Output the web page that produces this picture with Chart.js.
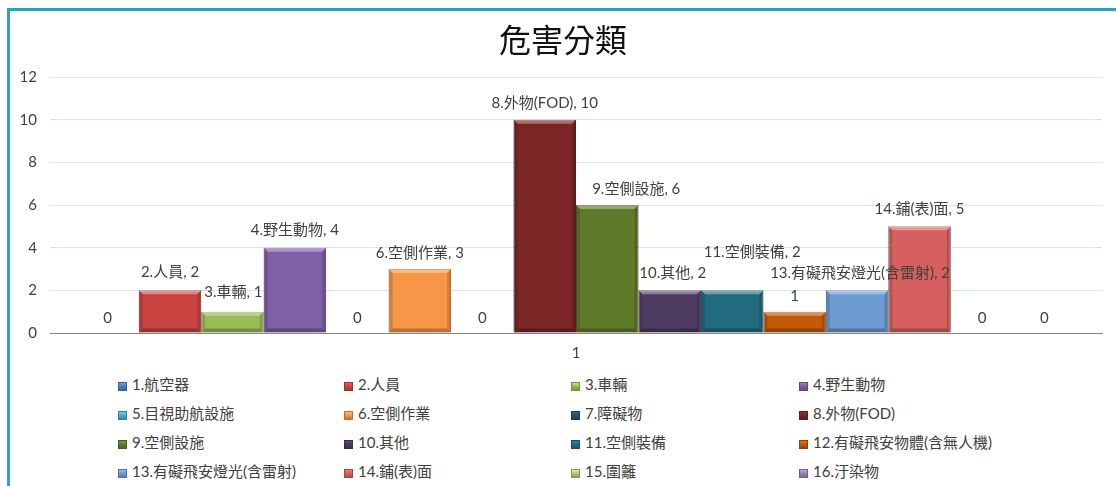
<!DOCTYPE html>
<html>
<head>
<meta charset="utf-8">
<script src="https://cdn.jsdelivr.net/npm/chart.js@4"></script>
<style>
  html, body { margin: 0; padding: 0; background: #fff; overflow: hidden; }
  body { width: 1116px; height: 486px; position: relative; font-family: Lato, "Noto Sans CJK TC", sans-serif; }
  #frame { position: absolute; left: 7px; top: 8px; width: 1200px; height: 600px;
           border-top: 3px solid #2ba3c0; border-left: 3px solid #2ba3c0; }
  #titulo { position: absolute; left: 0; top: 21px; width: 1126px; text-align: center;
            font-size: 32px; line-height: 38px; color: #111; }
  #wrap { position: absolute; left: 0; top: 0; width: 1116px; height: 370px; }
  #legend { position: absolute; left: 118px; top: 370px; display: grid;
            grid-template-columns: 226px 227px 228px 260px; grid-auto-rows: 29px;
            font-size: 15px; color: #404040; line-height: 29px; white-space: nowrap; }
  #legend span.box { display: inline-block; width: 9px; height: 9px; margin-right: 5px; vertical-align: -1px; }
</style>
</head>
<body>
<div id="frame"></div>
<div id="wrap"><canvas id="grafico" width="1116" height="370"></canvas></div>
<div id="titulo">危害分類</div>
<div id="legend"></div>
<script>
const categorias = ['1'];
const nomes = ['1.航空器', '2.人員', '3.車輛', '4.野生動物', '5.目視助航設施', '6.空側作業',
  '7.障礙物', '8.外物(FOD)', '9.空側設施', '10.其他', '11.空側裝備', '12.有礙飛安物體(含無人機)',
  '13.有礙飛安燈光(含雷射)', '14.鋪(表)面', '15.圍籬', '16.汙染物'];
const valores = [0, 2, 1, 4, 0, 3, 0, 10, 6, 2, 2, 1, 2, 5, 0, 0];
const ticksY = [0, 2, 4, 6, 8, 10, 12];

const cores = ['#4f81bd', '#c94441', '#9bbb59', '#7f5fa6', '#4bacc6', '#f79646', '#2c4d75', '#7a2624',
  '#5f7a2a', '#4d3b62', '#226b7e', '#c25a0a', '#6e9bd2', '#d5605d', '#afc97a', '#9983b5'];
// ajustes dos rótulos (Excel empurra alguns para não sobrepor)
const rotuloDx = [0, 0, 1, 0, 0, 0, 0, 0, 29, 3, 20, 0, 3, 0, 0, 0];
const rotuloDy = [2, -1, -3, -1, 2, 1, 2, 0, 1, 0, -21, 1, 0, 0, 2, 2];
const mostraNome = [true, true, true, true, true, true, true, true, true, true, true, false, true, true, true, true];

const fonte = 'Lato, "Noto Sans CJK TC", sans-serif';

function escurecer(hex, f) {
    const n = parseInt(hex.slice(1), 16);
    const r = Math.round(((n >> 16) & 255) * f), g = Math.round(((n >> 8) & 255) * f), b = Math.round((n & 255) * f);
    return 'rgb(' + Math.min(r, 255) + ',' + Math.min(g, 255) + ',' + Math.min(b, 255) + ')';
}

const chanfro = {
    id: 'chanfro',
    afterDatasetsDraw(chart) {
        const ctx = chart.ctx;
        ctx.save();
        chart.data.datasets.forEach((ds, i) => {
            const el = chart.getDatasetMeta(i).data[0];
            if (!el || valores[i] === 0) return;
            const l = el.x - el.width / 2, r = el.x + el.width / 2, t = el.y, b = el.base;
            const h = b - t, e = Math.min(4, h / 2);
            // topo claro
            ctx.fillStyle = 'rgba(255,255,255,0.35)';
            ctx.beginPath();
            ctx.moveTo(l, t); ctx.lineTo(r, t); ctx.lineTo(r - e, t + e); ctx.lineTo(l + e, t + e); ctx.closePath();
            ctx.fill();
            // laterais escuras
            ctx.fillStyle = 'rgba(0,0,0,0.15)';
            ctx.beginPath();
            ctx.moveTo(l, t); ctx.lineTo(l + e, t + e); ctx.lineTo(l + e, b - e); ctx.lineTo(l, b); ctx.closePath();
            ctx.fill();
            ctx.beginPath();
            ctx.moveTo(r, t); ctx.lineTo(r - e, t + e); ctx.lineTo(r - e, b - e); ctx.lineTo(r, b); ctx.closePath();
            ctx.fill();
            ctx.fillStyle = 'rgba(0,0,0,0.25)';
            ctx.beginPath();
            ctx.moveTo(l, b); ctx.lineTo(l + e, b - e); ctx.lineTo(r - e, b - e); ctx.lineTo(r, b); ctx.closePath();
            ctx.fill();
        });
        ctx.restore();
    }
};

const rotulos = {
    id: 'rotulos',
    afterDraw(chart) {
        const ctx = chart.ctx;
        ctx.save();
        ctx.font = '15px ' + fonte;
        ctx.fillStyle = '#404040';
        ctx.textAlign = 'center';
        ctx.textBaseline = 'middle';
        chart.data.datasets.forEach((ds, i) => {
            const el = chart.getDatasetMeta(i).data[0];
            const v = valores[i];
            const txt = (v === 0 || !mostraNome[i]) ? String(v) : nomes[i] + ', ' + v;
            ctx.fillText(txt, el.x + rotuloDx[i], el.y - 17 + rotuloDy[i]);
        });
        ctx.restore();
    }
};

function graficoBarras() {
    const ctx = document.getElementById('grafico');

    new Chart(ctx, {
        type: 'bar',
        data: {
            labels: categorias,
            datasets: nomes.map((n, i) => ({
                label: n,
                data: [valores[i]],
                backgroundColor: cores[i],
                borderColor: escurecer(cores[i], 0.8),
                borderWidth: 1,
                categoryPercentage: 0.95,
                barPercentage: 1
            }))
        },
        options: {
            responsive: false,
            animation: false,
            devicePixelRatio: 1,
            layout: { padding: { left: 0, right: 14, top: 77, bottom: 0 } },
            plugins: {
                legend: { display: false },
                tooltip: { enabled: false },
                title: { display: false }
            },
            scales: {
                x: {
                    grid: { display: false, drawTicks: false },
                    border: { display: true, color: '#868686', width: 1 },
                    ticks: { color: '#404040', font: { size: 15, family: fonte }, padding: 11 },
                    afterFit: s => { s.height = 37; }
                },
                y: {
                    min: 0,
                    max: 12,
                    afterBuildTicks: s => { s.ticks = ticksY.map(v => ({ value: v })); },
                    grid: { color: '#d6e4f1', drawTicks: false },
                    border: { display: false },
                    ticks: { color: '#404040', font: { size: 15, family: fonte }, padding: 13 },
                    afterFit: s => { s.width = 50; }
                }
            }
        },
        plugins: [chanfro, rotulos]
    });
}

function legenda() {
    const box = document.getElementById('legend');
    nomes.forEach((n, i) => {
        const item = document.createElement('div');
        const q = document.createElement('span');
        q.className = 'box';
        q.style.background = 'linear-gradient(' + escurecer(cores[i], 1.25) + ', ' + cores[i] + ' 45%, ' + escurecer(cores[i], 0.8) + ')';
        q.style.border = '1px solid ' + escurecer(cores[i], 0.75);
        q.style.boxSizing = 'border-box';
        item.appendChild(q);
        item.appendChild(document.createTextNode(n));
        box.appendChild(item);
    });
}

graficoBarras();

legenda();
</script>
</body>
</html>
